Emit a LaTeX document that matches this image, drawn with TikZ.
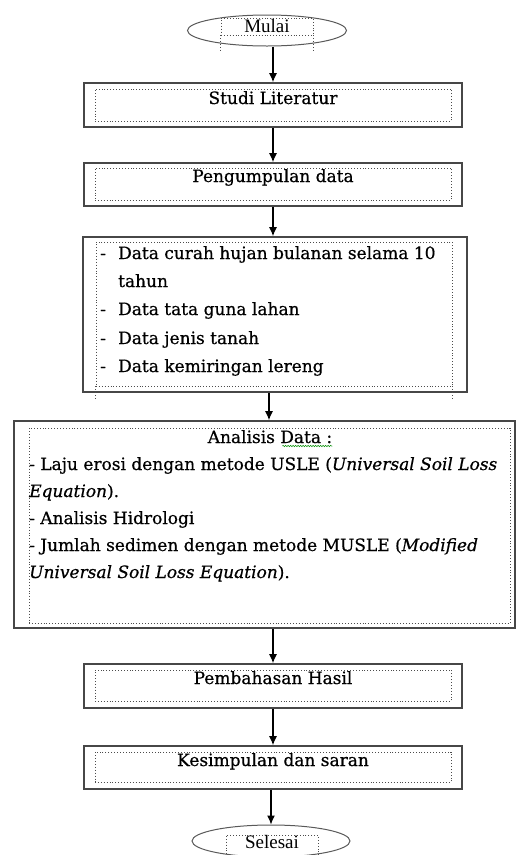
\documentclass[tikz,border=0pt]{standalone}
\usepackage{fontspec}
\setmainfont{DejaVu Serif}[FakeBold=0.6]
\newfontfamily\ovalfont{Liberation Serif}
\usetikzlibrary{positioning,shapes,arrows.meta,calc,decorations.pathmorphing}

\begin{document}
\begin{tikzpicture}[x=1pt, y=-1pt,
  box/.style={rectangle, draw=black!72, line width=1.6pt, inner sep=0pt, minimum width=378pt},
  frame/.style={rectangle, draw=black!70, dotted, line width=0.9pt, inner sep=0pt},
  tail/.style={draw=black!70, dotted, line width=0.9pt},
  oval/.style={ellipse, draw=black!65, line width=1pt, inner sep=0pt, minimum width=159pt, minimum height=31pt},
  txt/.style={inner sep=0pt, font=\fontsize{17}{20}\selectfont},
  ovaltxt/.style={inner sep=0pt, font=\ovalfont\fontsize{19}{21}\selectfont},
  arr/.style={-{Latex[length=9pt,width=8pt]}, line width=1.2pt}]
\useasboundingbox (0,0) rectangle (517,855);

% start
\node[oval] (mulai) at (267,30.5) {};
\node[frame, minimum width=92pt, minimum height=17pt] (mulai-f) at (267,26.5) {};
\draw[tail] (mulai-f.south west) -- ++(0,17);
\draw[tail] (mulai-f.south east) -- ++(0,17);
\node[ovaltxt, anchor=base] (mulai-t) at (267,32) {Mulai};

% studi literatur
\node[box, minimum height=44pt] (studi) at (273,105) {};
\node[frame, minimum width=356pt, minimum height=32pt] (studi-f) at (273,105) {};
\node[txt, anchor=base] (studi-t) at (273,104) {Studi Literatur};

% pengumpulan data
\node[box, minimum height=43pt] (peng) at (273,184.5) {};
\node[frame, minimum width=356pt, minimum height=32pt] (peng-f) at (273,184) {};
\node[txt, anchor=base] (peng-t) at (273,182) {Pengumpulan data};

% data
\node[box, minimum width=384pt, minimum height=155pt] (data) at (275,314.5) {};
\node[frame, minimum width=356pt, minimum height=144pt] (data-f) at (274,314) {};
\draw[tail] (data-f.south west) -- ++(0,14);
\draw[tail] (data-f.south east) -- ++(0,14);
\node[txt, anchor=base west] (d1) at (100,259) {\makebox[18pt][l]{-}Data curah hujan bulanan selama 10};
\node[txt, anchor=base west] (d2) at (100,287) {\hspace*{18pt}tahun};
\node[txt, anchor=base west] (d3) at (100,315) {\makebox[18pt][l]{-}Data tata guna lahan};
\node[txt, anchor=base west] (d4) at (100,344) {\makebox[18pt][l]{-}Data jenis tanah};
\node[txt, anchor=base west] (d5) at (100,372) {\makebox[18pt][l]{-}Data kemiringan lereng};

% analisis
\node[box, minimum width=501pt, minimum height=207pt] (analisis) at (264.5,524.5) {};
\node[frame, minimum width=481pt, minimum height=195pt] (analisis-f) at (269.5,525.5) {};
\node[txt, anchor=base] (a0) at (270,443) {Analisis Data :};
\draw[green!55!black, line width=0.5pt, decorate, decoration={snake, amplitude=0.7pt, segment length=2.5pt}]
  (a0.base east) ++(-50,3) -- ++(50,0);
\node[txt, anchor=base west] (a1) at (29,470) {- Laju erosi dengan metode USLE (\textit{Universal Soil Loss}};
\node[txt, anchor=base west] (a2) at (29,497) {\textit{Equation}).};
\node[txt, anchor=base west] (a3) at (29,524) {- Analisis Hidrologi};
\node[txt, anchor=base west] (a4) at (29,551) {- Jumlah sedimen dengan metode MUSLE (\textit{Modified}};
\node[txt, anchor=base west] (a5) at (29,578) {\textit{Universal Soil Loss Equation}).};

% pembahasan
\node[box, minimum height=44pt] (pemb) at (273,686) {};
\node[frame, minimum width=356pt, minimum height=31pt] (pemb-f) at (273,685.5) {};
\node[txt, anchor=base] (pemb-t) at (273,684) {Pembahasan Hasil};

% kesimpulan
\node[box, minimum height=43pt] (kesim) at (273,767.5) {};
\node[frame, minimum width=356pt, minimum height=30pt] (kesim-f) at (273,767) {};
\node[txt, anchor=base] (kesim-t) at (273,766) {Kesimpulan dan saran};

% end
\node[oval, minimum width=158pt, minimum height=32pt] (selesai) at (271,841) {};
\node[frame, minimum width=92pt, minimum height=21pt] (selesai-f) at (272,845.5) {};
\node[ovaltxt, anchor=base] (selesai-t) at (272,848) {Selesai};

\draw[arr] (mulai.south -| studi.north) -- (studi.north);
\draw[arr] (studi.south) -- (peng.north);
\draw[arr] (peng.south) -- (peng.south |- data.north);
\draw[arr] ($(data.south)+(-6,0)$) -- ($(data.south |- analisis.north)+(-6,0)$);
\draw[arr] (analisis.south -| pemb.north) -- (pemb.north);
\draw[arr] (pemb.south) -- (kesim.north);
\draw[arr] (kesim.south -| selesai.north) -- (selesai.north);
\end{tikzpicture}
\end{document}
